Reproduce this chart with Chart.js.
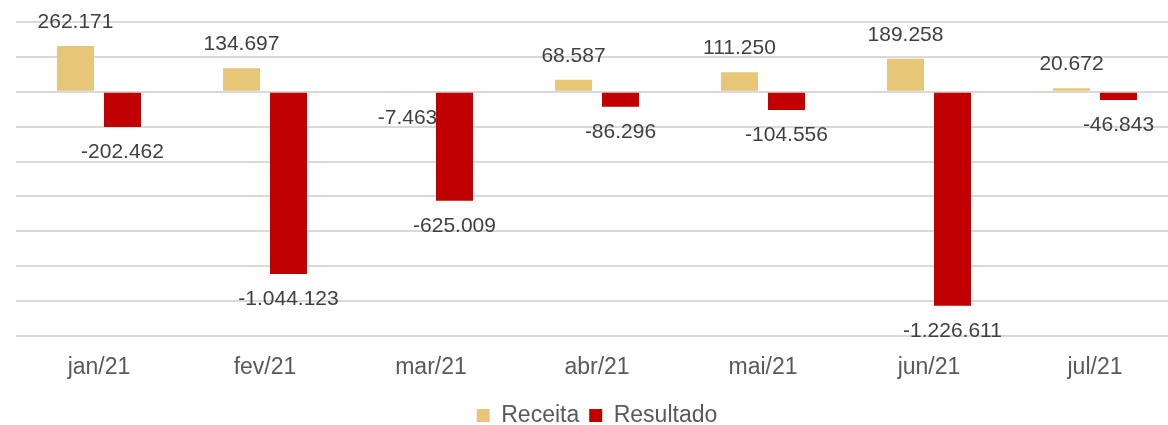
<!DOCTYPE html>
<html>
<head>
<meta charset="utf-8">
<script src="https://cdn.jsdelivr.net/npm/chart.js@4"></script>
<style>
    html, body { margin: 0; padding: 0; background: #fff; }
    #wrap { width: 1168px; height: 425px; overflow: hidden; }
</style>
</head>
<body>
<div id="wrap"><canvas id="chart" width="1180" height="437"></canvas></div>
<script>
const months = ['jan/21', 'fev/21', 'mar/21', 'abr/21', 'mai/21', 'jun/21', 'jul/21'];
const receita = [262171, 134697, -7463, 68587, 111250, 189258, 20672];
const resultado = [-202462, -1044123, -625009, -86296, -104556, -1226611, -46843];
const yMin = -1400000;
const yMax = 400000;
const yStep = 200000;

const fontFamily = '"Liberation Sans", Arial, sans-serif';

function fmt(v) {
    const s = Math.abs(v).toString().replace(/\B(?=(\d{3})+(?!\d))/g, '.');
    return (v < 0 ? '-' : '') + s;
}

// draw value labels outside bar ends
const valueLabels = {
    id: 'valueLabels',
    afterDatasetsDraw(chart) {
        const ctx = chart.ctx;
        ctx.save();
        ctx.font = '21px ' + fontFamily;
        ctx.fillStyle = '#404040';
        ctx.textAlign = 'center';
        ctx.textBaseline = 'middle';
        chart.data.datasets.forEach((ds, i) => {
            const meta = chart.getDatasetMeta(i);
            meta.data.forEach((bar, j) => {
                const v = ds.data[j];
                const y = v >= 0 ? bar.y - 24 : bar.y + 25;
                ctx.fillText(fmt(v), bar.x, y);
            });
        });
        ctx.restore();
    }
};

new Chart(document.getElementById('chart').getContext('2d'), {
    type: 'bar',
    data: {
        labels: months,
        datasets: [
            { label: 'Receita', data: receita, backgroundColor: '#E8C677', categoryPercentage: 0.566, barPercentage: 0.787 },
            { label: 'Resultado', data: resultado, backgroundColor: '#C00000', categoryPercentage: 0.566, barPercentage: 0.787 }
        ]
    },
    options: {
        responsive: false,
        animation: false,
        layout: { padding: { left: 16, right: 2, top: 22, bottom: 0 } },
        plugins: {
            tooltip: { enabled: false },
            legend: {
                position: 'bottom',
                labels: { boxWidth: 13, boxHeight: 13, color: '#595959', font: { family: fontFamily, size: 23, lineHeight: 1 }, padding: 10 }
            }
        },
        scales: {
            x: {
                grid: { display: false },
                border: { display: false },
                ticks: { color: '#595959', font: { family: fontFamily, size: 23 }, padding: 10 },
                afterFit(scale) { scale.height = 58; }
            },
            y: {
                min: yMin,
                max: yMax,
                ticks: { display: false, stepSize: yStep },
                grid: { color: '#d9d9d9', lineWidth: 2, drawTicks: false },
                border: { display: false }
            }
        }
    },
    plugins: [valueLabels]
});
</script>
</body>
</html>
